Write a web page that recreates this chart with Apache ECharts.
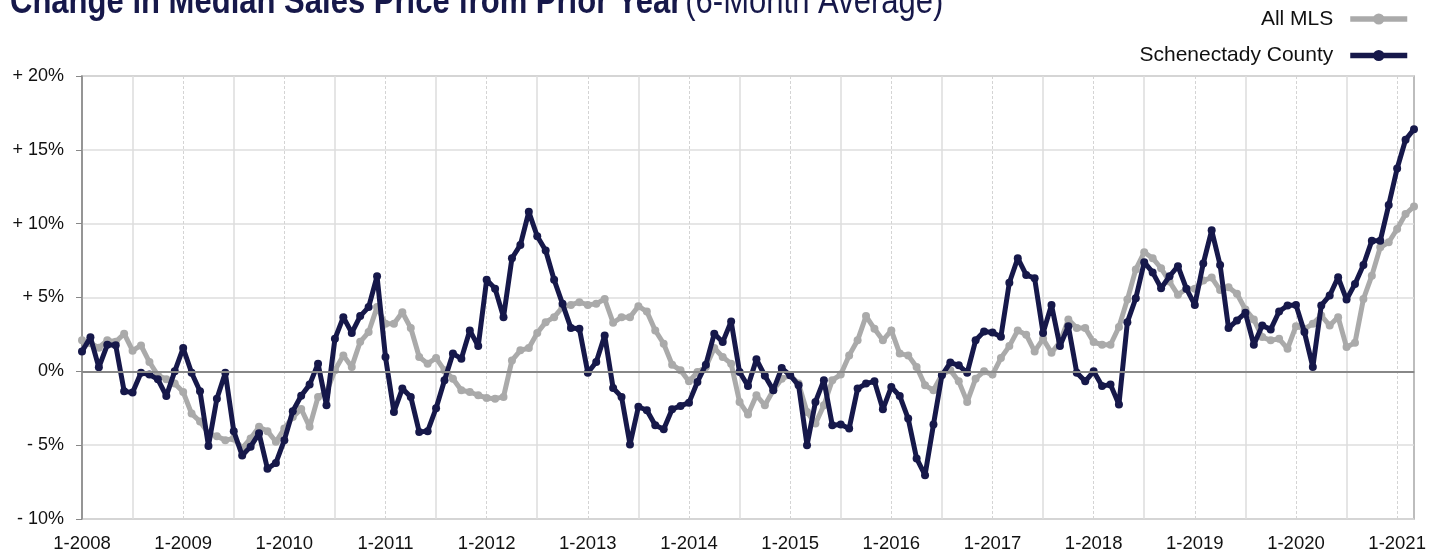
<!DOCTYPE html>
<html>
<head>
<meta charset="utf-8">
<script src="https://cdn.jsdelivr.net/npm/echarts@6/dist/echarts.min.js"></script>
<style>
html,body{margin:0;padding:0;background:#fff;}
#c{width:1439px;height:553px;}
</style>
</head>
<body>
<div id="c"></div>
<script>
// Monthly, 1-2008 through 3-2021
const startYear = 2008;
const monthCount = 159;
const yTicks = [-10, -5, 0, 5, 10, 15, 20];

const allMLS = [
 2.1, 1.9, 1.6, 2.1, 2.0, 2.55, 1.4, 1.75, 0.63, -0.27, -0.54, -0.83,
 -1.4, -2.86, -3.4, -4.2, -4.4, -4.66, -4.55, -5.2, -4.55, -3.76, -4.05, -4.77,
 -3.87, -3.1, -2.55, -3.76, -1.73, -1.4, 0.07, 1.08, 0.3, 2.0, 2.66, 4.35,
 3.22, 3.22, 4.0, 2.93, 0.97, 0.52, 0.9, 0.07, -0.5, -1.28, -1.4, -1.62,
 -1.8, -1.85, -1.73, 0.74, 1.42, 1.58, 2.6, 3.33, 3.67, 4.35, 4.5, 4.68,
 4.5, 4.57, 4.9, 3.29, 3.67, 3.67, 4.41, 4.05, 2.77, 1.87, 0.45, 0.07,
 -0.68, -0.05, 0.29, 1.58, 0.97, 0.52, -2.07, -2.93, -1.62, -2.3, -1.28, -0.5,
 -0.27, -0.83, -2.75, -3.54, -2.3, -0.6, -0.22, 1.08, 2.1, 3.74, 2.88, 2.1,
 2.77, 1.2, 1.08, 0.29, -0.95, -1.28, -0.22, 0.07, -0.68, -2.07, -0.5, 0,
 -0.22, 0.9, 1.71, 2.77, 2.48, 1.35, 2.2, 1.26, 1.98, 3.51, 2.93, 2.93,
 1.98, 1.8, 1.8, 3.0, 4.86, 6.9, 8.06, 7.66, 6.98, 6.08, 5.18, 5.6,
 5.6, 6.15, 6.35, 5.5, 5.7, 5.25, 4.19, 3.51, 2.32, 2.1, 2.2, 1.53,
 3.06, 2.88, 3.22, 3.78, 3.1, 3.67, 1.64, 1.94, 4.9, 6.48, 8.4, 8.74,
 9.64, 10.65, 11.17
];

const schenectady = [
 1.35, 2.3, 0.27, 1.8, 1.76, -1.35, -1.44, -0.1, -0.22, -0.54, -1.67, 0,
 1.58, -0.1, -1.35, -5.05, -1.85, -0.1, -4.05, -5.7, -5.1, -4.2, -6.6, -6.2,
 -4.66, -2.7, -1.65, -0.9, 0.52, -2.3, 2.2, 3.67, 2.6, 3.74, 4.35, 6.44,
 0.97, -2.75, -1.17, -1.73, -4.1, -4.05, -2.5, -0.6, 1.2, 0.86, 2.77, 1.71,
 6.2, 5.6, 3.67, 7.66, 8.56, 10.8, 9.15, 8.18, 6.2, 4.57, 2.93, 2.88,
 -0.1, 0.63, 2.43, -1.13, -1.73, -4.95, -2.4, -2.64, -3.65, -3.92, -2.57, -2.34,
 -2.12, -0.72, 0.45, 2.55, 1.98, 3.38, -0.05, -0.99, 0.81, -0.3, -1.28, 0.22,
 -0.27, -0.95, -5.0, -2.07, -0.6, -3.65, -3.6, -3.87, -1.17, -0.83, -0.68, -2.57,
 -1.06, -1.67, -3.2, -5.9, -7.03, -3.6, -0.27, 0.59, 0.41, -0.1, 2.1, 2.7,
 2.63, 2.35, 6.0, 7.66, 6.53, 6.3, 2.6, 4.5, 1.71, 3.06, -0.1, -0.68,
 0, -0.99, -0.9, -2.25, 3.33, 4.95, 7.39, 6.7, 5.63, 6.44, 7.12, 5.6,
 4.5, 7.3, 9.55, 7.2, 2.93, 3.45, 3.96, 1.8, 3.1, 2.84, 4.05, 4.46,
 4.5, 2.66, 0.29, 4.46, 5.14, 6.37, 4.86, 5.92, 7.2, 8.85, 8.85, 11.26,
 13.74, 15.68, 16.4
];

const categories = [];
for (let i = 0; i < monthCount; i++) {
  categories.push(((i % 12) + 1) + '-' + (startYear + Math.floor(i / 12)));
}

const NAVY = '#16184a';
const GRAY = '#aaaaaa';
const FONT = '"Liberation Sans", Arial, Helvetica, sans-serif';

const chart = echarts.init(document.getElementById('c'), null, {renderer: 'canvas'});
chart.setOption({
  animation: false,
  backgroundColor: '#fff',
  graphic: [{
    type: 'text',
    left: 10,
    top: -16,
    scaleX: 0.85,
    style: {
      text: '{b|Change in Median Sales Price from Prior Year} {r|(6-Month Average)}',
      rich: {
        b: {fontFamily: FONT, fontWeight: 'bold', fontSize: 36.5, fill: NAVY},
        r: {fontFamily: FONT, fontWeight: 'normal', fontSize: 36.5, fill: NAVY}
      }
    }
  }],
  legend: {
    orient: 'vertical',
    right: 29,
    top: 7,
    padding: 0,
    align: 'right',
    itemWidth: 57,
    itemHeight: 14,
    itemGap: 12.5,
    lineStyle: {width: 5.5},
    textStyle: {fontFamily: FONT, fontSize: 21, color: '#111', lineHeight: 24, padding: [0, 12, 0, 0]},
    data: ['All MLS', 'Schenectady County']
  },
  grid: {
    left: 82, right: 25, top: 76, bottom: 31,
    show: true, borderColor: '#a8a8a8', borderWidth: 1.5, containLabel: false
  },
  xAxis: [{
    type: 'category',
    data: categories,
    boundaryGap: false,
    axisLine: {show: true, lineStyle: {color: '#999', width: 1.5}},
    axisTick: {show: false},
    axisLabel: {
      interval: function (idx) { return idx % 12 === 0; },
      fontFamily: FONT, fontSize: 18.5, color: '#111', margin: 15
    },
    splitLine: {
      show: true,
      interval: function (idx) { return idx % 12 === 0 && idx !== 0; },
      lineStyle: {color: '#d4d4d4', type: [3, 2], width: 1}
    }
  }, {
    type: 'category',
    data: categories,
    boundaryGap: false,
    position: 'bottom',
    axisLine: {show: false},
    axisTick: {show: false},
    axisLabel: {show: false},
    splitLine: {
      show: true,
      interval: function (idx) { return idx % 12 === 6; },
      lineStyle: {color: '#dcdcdc', type: 'solid', width: 1.5}
    }
  }],
  yAxis: {
    type: 'value',
    min: yTicks[0],
    max: yTicks[yTicks.length - 1],
    interval: 5,
    axisLine: {show: true, lineStyle: {color: '#888', width: 1.5}},
    axisTick: {show: true, length: 6, lineStyle: {color: '#888'}},
    axisLabel: {
      fontFamily: FONT, fontSize: 18, color: '#111', margin: 18,
      formatter: function (v) {
        if (v > 0) return '+ ' + v + '%';
        if (v < 0) return '- ' + Math.abs(v) + '%';
        return '0%';
      }
    },
    splitLine: {show: true, lineStyle: {color: '#dedede', width: 1.5}}
  },
  series: [{
    name: 'All MLS',
    type: 'line',
    data: allMLS,
    symbol: 'circle',
    symbolSize: 8,
    showAllSymbol: true,
    lineStyle: {color: GRAY, width: 5},
    itemStyle: {color: GRAY},
    z: 2,
    markLine: {
      silent: true,
      symbol: 'none',
      label: {show: false},
      lineStyle: {color: '#888', width: 2, type: 'solid'},
      data: [{yAxis: 0}]
    }
  }, {
    name: 'Schenectady County',
    type: 'line',
    data: schenectady,
    symbol: 'circle',
    symbolSize: 8,
    showAllSymbol: true,
    lineStyle: {color: NAVY, width: 5},
    itemStyle: {color: NAVY},
    z: 3
  }]
});
</script>
</body>
</html>
